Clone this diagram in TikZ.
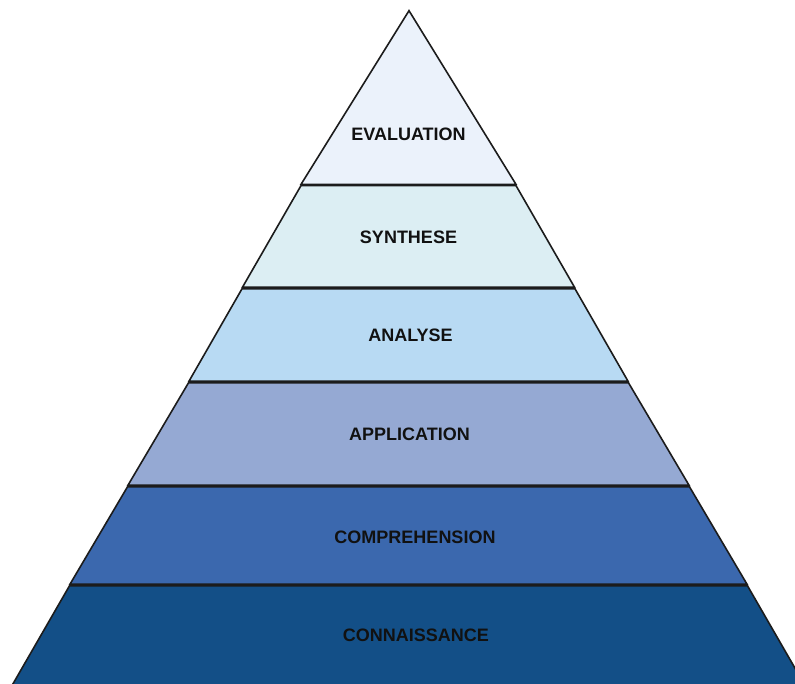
\documentclass[tikz,border=0pt]{standalone}
\usepackage{fontspec}
\setmainfont{Liberation Sans}
\definecolor{cEval}{HTML}{EBF2FB}
\definecolor{cSynth}{HTML}{DCEEF3}
\definecolor{cAnal}{HTML}{B8DAF3}
\definecolor{cAppl}{HTML}{95A9D3}
\definecolor{cComp}{HTML}{3B68AE}
\definecolor{cConn}{HTML}{134F87}
\definecolor{edge}{HTML}{1C1C1C}
\definecolor{txt}{HTML}{111111}
\tikzset{
  band/.style={draw=edge, line width=1.6pt, line join=miter},
  lbl/.style={font=\fontsize{18}{20}\selectfont\bfseries, text=txt, inner sep=0pt}
}
\begin{document}
\begin{tikzpicture}[x=1pt,y=-1pt]
\useasboundingbox (0,0) rectangle (795,684);
\begin{scope}
\clip (0,0) rectangle (795,684);
% bands: centre x = 408.5
\fill[white] (0,0) rectangle (795,684);
\draw[band, fill=cConn] (408.5-339,585.8) -- (408.5+339,585.8) -- (408.5+406,702) -- (408.5-406,702) -- cycle;
\draw[band, fill=cComp] (408.5-281,486.8) -- (408.5+281,486.8) -- (408.5+338.5,584.2) -- (408.5-338.5,584.2) -- cycle;
\draw[band, fill=cAppl] (408.5-220,382.8) -- (408.5+220,382.8) -- (408.5+280.5,485.2) -- (408.5-280.5,485.2) -- cycle;
\draw[band, fill=cAnal] (408.5-166.5,288.8) -- (408.5+166.5,288.8) -- (408.5+219.5,381.2) -- (408.5-219.5,381.2) -- cycle;
\draw[band, fill=cSynth] (408.5-107.5,185.6) -- (408.5+107.5,185.6) -- (408.5+166,287.2) -- (408.5-166,287.2) -- cycle;
\draw[band, fill=cEval] (409,10.7) -- (408.5+107.5,184.4) -- (408.5-107.5,184.4) -- cycle;
\end{scope}
\node[lbl] (eval) at (408.5,134.7) {EVALUATION};
\node[lbl] (synth) at (408.5,237) {SYNTHESE};
\node[lbl] (anal) at (410.5,335.5) {ANALYSE};
\node[lbl] (appl) at (409.5,434.5) {APPLICATION};
\node[lbl] (comp) at (415,537) {COMPREHENSION};
\node[lbl] (conn) at (415.8,635.3) {CONNAISSANCE};
\end{tikzpicture}
\end{document}
